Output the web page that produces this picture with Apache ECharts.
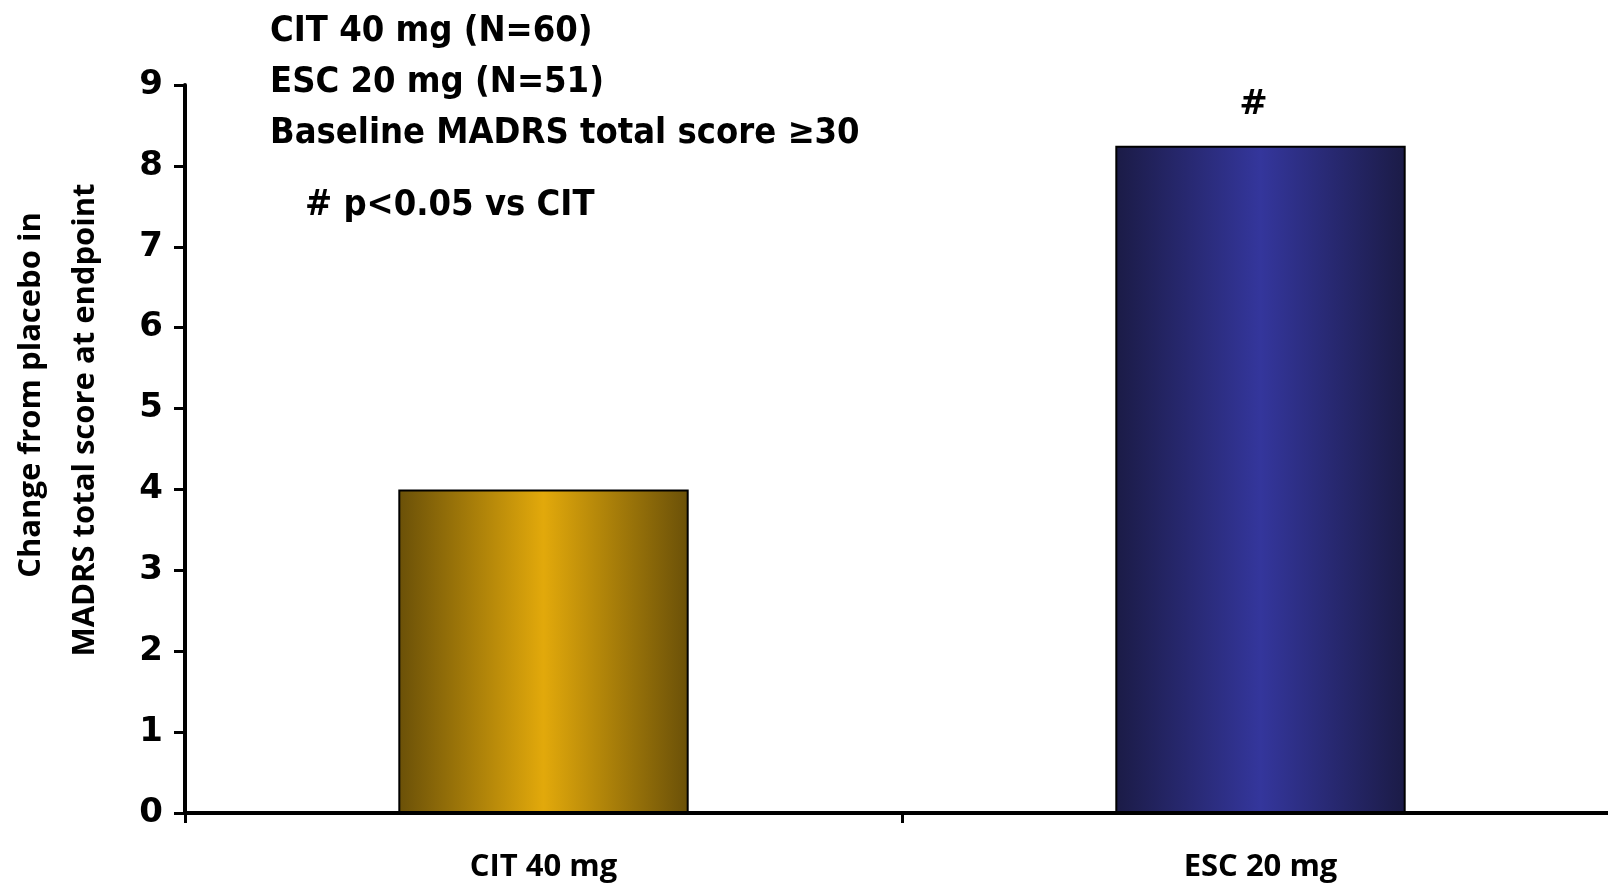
<!DOCTYPE html>
<html>
<head>
<meta charset="utf-8">
<script src="https://cdn.jsdelivr.net/npm/echarts@6/dist/echarts.min.js"></script>
<style>
html,body{margin:0;padding:0;background:#fff;}
#chart{width:1608px;height:886px;}
</style>
</head>
<body>
<div id="chart"></div>
<script>
const categories = ['CIT 40 mg', 'ESC 20 mg'];
const values = [4.0, 8.25];
const markers = ['', '#'];
const yTitleLines = ['Change from placebo in', 'MADRS total score at endpoint'];
const noteLines = ['CIT 40 mg (N=60)', 'ESC 20 mg (N=51)', 'Baseline MADRS total score \u226530'];
const footnote = '# p<0.05 vs CIT';

function grad(edge, mid) {
  return new echarts.graphic.LinearGradient(0, 0, 1, 0, [
    {offset: 0, color: edge}, {offset: 0.5, color: mid}, {offset: 1, color: edge}
  ]);
}
const barColors = [grad('#6a5008', '#e2a90b'), grad('#1b1b46', '#34369c')];

const chart = echarts.init(document.getElementById('chart'));
const condFont = '"Liberation Sans Narrow", "DejaVu Sans Condensed", sans-serif';
const humFont = '"Open Sans", "Noto Sans", sans-serif';

chart.setOption({
  animation: false,
  grid: {left: 185, width: 1434, top: 85, bottom: 73, containLabel: false, outerBoundsMode: 'none'},
  xAxis: {
    type: 'category',
    data: categories,
    axisLine: {lineStyle: {color: '#000', width: 4}},
    axisTick: {show: true, length: 10, lineStyle: {color: '#000', width: 3}},
    axisLabel: {color: '#000', fontFamily: humFont, fontWeight: 'bold', fontSize: 31, margin: 39}
  },
  yAxis: {
    type: 'value', min: 0, max: 9, interval: 1,
    splitLine: {show: false},
    axisLine: {show: true, lineStyle: {color: '#000', width: 4}},
    axisTick: {show: true, length: 11, lineStyle: {color: '#000', width: 3}},
    axisLabel: {color: '#000', fontFamily: '"DejaVu Sans", sans-serif', fontWeight: 'bold', fontSize: 34, margin: 22}
  },
  series: [{
    type: 'bar',
    barWidth: '40.5%',
    data: values.map((v, i) => ({
      value: v,
      itemStyle: {color: barColors[i], borderColor: '#000', borderWidth: 2},
      label: {show: markers[i] !== '', formatter: markers[i], position: 'top', distance: 23, offset: [-7, 0],
              color: '#000', fontFamily: '"DejaVu Sans", sans-serif', fontWeight: 'bold', fontSize: 34}
    }))
  }],
  graphic: [
    ...yTitleLines.map((t, i) => ({
      type: 'text', rotation: Math.PI / 2,
      x: [31, 85][i], y: [395, 420][i],
      style: {text: t, fill: '#000', font: 'bold 31px ' + humFont, textAlign: 'center', textVerticalAlign: 'middle'}
    })),
    ...noteLines.map((t, i) => ({
      type: 'text', x: 270, y: 32 + i * 51,
      style: {text: t, fill: '#000', font: 'bold 36px ' + condFont, textAlign: 'left', textVerticalAlign: 'middle'}
    })),
    {type: 'text', x: 305, y: 206,
     style: {text: footnote, fill: '#000', font: 'bold 36px ' + condFont, textAlign: 'left', textVerticalAlign: 'middle'}}
  ]
});
</script>
</body>
</html>
